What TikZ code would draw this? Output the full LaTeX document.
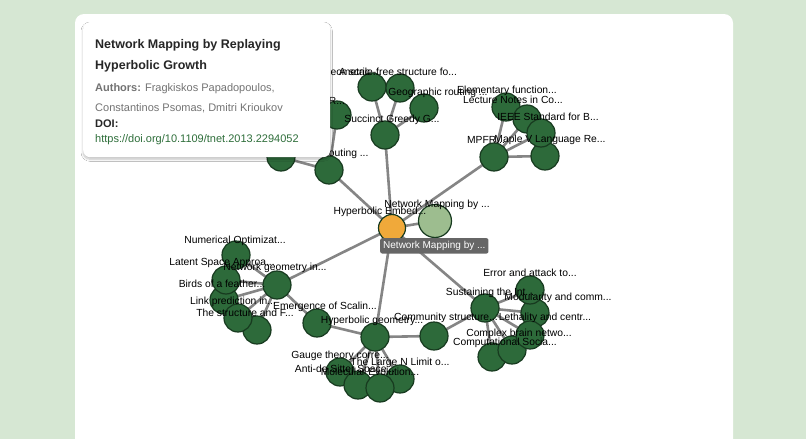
\documentclass[tikz,border=0pt]{standalone}
\usepackage{fontspec}
\setmainfont{Liberation Sans}
\usetikzlibrary{shadows.blur}
\definecolor{bgg}{HTML}{D6E7D3}
\definecolor{nfill}{HTML}{2D6A3A}
\definecolor{nline}{HTML}{173A1F}
\definecolor{edge}{HTML}{858585}
\definecolor{orng}{HTML}{F0A93A}
\definecolor{lgrn}{HTML}{9DBD8F}
\definecolor{lnk}{HTML}{2E6E3A}
\tikzset{
 pn/.style={circle,fill=nfill,draw=nline,line width=1.2pt,minimum size=28pt,inner sep=0pt},
 lab/.style={font=\fontsize{10.3}{11}\selectfont,text=black,inner sep=0pt},
 ed/.style={draw=edge,line width=2.6pt},
 cardtxt/.style={anchor=west,inner xsep=0pt,inner ysep=0pt},
}
\begin{document}
\begin{tikzpicture}[x=1pt,y=-1pt]
\fill[bgg] (0,0) rectangle (806,439);
\useasboundingbox (0,0) rectangle (806,439);
\fill[white,rounded corners=9pt] (75,14) rectangle (733,460);
% node positions (named coordinates)
\foreach \n/\p in {H/{392,228},N/{435,221},A/{385,135},A1/{372,87},A2/{400,88},A3/{424,108},B/{329,170},B1/{337,115},B2/{281,157},C/{494,157},C1/{506,107},C2/{527,119},C4/{545,156},C3/{541,133},D/{277,285},D1/{236,255},D3/{224,300},D5/{257,330},D4/{238,318},D2/{226,280},E/{317,323},F/{375,337},G/{434,336},F4/{400,379},F1/{340,372},F2/{358,385},F3/{380,388},I/{485,308},I5/{492,357},I4/{512,350},I2/{535,313},I1/{530,290},I3/{530,335}}
  \coordinate (\n) at (\p);
% edges
\path[ed] (H)--(N) (H)--(A) (H)--(B) (H)--(C) (H)--(D) (H)--(F) (H)--(I)
 (A)--(A1) (A)--(A2) (A)--(A3) (B)--(B1) (B)--(B2)
 (C)--(C1) (C)--(C2) (C)--(C3) (C)--(C4)
 (D)--(D1) (D)--(D2) (D)--(D3) (D)--(D4) (D)--(D5) (D)--(E)
 (F)--(E) (F)--(G) (G)--(I) (F)--(F1) (F)--(F2) (F)--(F3) (F)--(F4)
 (I)--(I1) (I)--(I2) (I)--(I3) (I)--(I4) (I)--(I5);
% nodes
\foreach \n in {A,A1,A2,A3,B,B1,B2,C,C1,C2,C4,C3,D,D1,D3,D5,D4,D2,E,F,G,F4,F1,F2,F3,I,I5,I4,I2,I1,I3}
  \node[pn] (n\n) at (\n) {};
\node[circle,fill=orng,draw=nline,line width=1.2pt,minimum size=27pt,inner sep=0pt] (nH) at (H) {};
\node[circle,fill=lgrn,draw=nline,line width=1.2pt,minimum size=33pt,inner sep=0pt] (nN) at (N) {};
% labels
\node[lab] (lA1) at (352,72) {Geometric ...};
\node[lab] (lA2) at (398,72) {A scale-free structure fo...};
\node[lab] (lA3) at (438,93) {Geographic routing ...};
\node[lab] (lA) at (392,120) {Succinct Greedy G...};
\node[lab] (lB1) at (330,101) {PSR...};
\node[lab] (lB) at (345,154) {Routing ...};
\node[lab] (lC1) at (507,91) {Elementary function...};
\node[lab] (lC2) at (513,100) {Lecture Notes in Co...};
\node[lab] (lC3) at (548,117) {IEEE Standard for B...};
\node[lab] (lC) at (486,140) {MPFR...};
\node[lab] (lC4) at (550,140) {Maple V Language Re...};
\node[lab] (lH) at (380,212) {Hyperbolic Embed...};
\node[lab] (lN) at (437,205) {Network Mapping by ...};
\node[lab] (lD1) at (235,241) {Numerical Optimizat...};
\node[lab] (lD2) at (222,263) {Latent Space Approa...};
\node[lab] (lD) at (275,268) {Network geometry in...};
\node[lab] (lD3) at (222,284) {Birds of a feather...};
\node[lab] (lD4) at (233,302) {Link prediction in...};
\node[lab] (lD5) at (245,313) {The structure and F...};
\node[lab] (lE) at (325,307) {Emergence of Scalin...};
\node[lab] (lF) at (372,321) {Hyperbolic geometry...};
\node[lab] (lG) at (446,318) {Community structure...};
\node[lab] (lF1) at (340,356) {Gauge theory corre...};
\node[lab] (lF4) at (400,363) {The Large N Limit o...};
\node[lab] (lF2) at (345,370) {Anti-de Sitter Space...};
\node[lab] (lF3) at (370,372) {Molecular Evolution...};
\node[lab] (lI1) at (530,273) {Error and attack to...};
\node[lab] (lI) at (490,293) {Sustaining the Int...};
\node[lab] (lI2) at (558,298) {Modularity and comm...};
\node[lab] (lI3) at (545,318) {Lethality and centr...};
\node[lab] (lI4) at (519,334) {Complex brain netwo...};
\node[lab] (lI5) at (505,343) {Computational Socia...};
% dark tooltip
\node[fill=black!60,rounded corners=2pt,text=white,font=\fontsize{10}{10}\selectfont,inner xsep=3pt,inner ysep=3pt,anchor=north west] (tt) at (380,238) {Network Mapping by ...};
% info card
\node[fill=white,rounded corners=7pt,blur shadow={shadow blur steps=8,shadow xshift=0pt,shadow yshift=-2pt,shadow opacity=25},minimum width=247pt,minimum height=135pt,anchor=north west] (card) at (83,22) {};
\node[cardtxt,font=\bfseries\fontsize{12.5}{14}\selectfont,text=black!85] (t1) at (95,45) {Network Mapping by Replaying};
\node[cardtxt,font=\bfseries\fontsize{12.5}{14}\selectfont,text=black!85] (t2) at (95,66) {Hyperbolic Growth};
\node[cardtxt,font=\fontsize{11}{13}\selectfont,text=black!55] (au1) at (95,89) {\textbf{Authors:} Fragkiskos Papadopoulos,};
\node[cardtxt,font=\fontsize{11}{13}\selectfont,text=black!55] (au2) at (95,108) {Constantinos Psomas, Dmitri Krioukov};
\node[cardtxt,font=\bfseries\fontsize{11}{13}\selectfont,text=black!85] (doi) at (95,124) {DOI:};
\node[cardtxt,font=\fontsize{11}{13}\selectfont,text=lnk] (url) at (95,140) {https://doi.org/10.1109/tnet.2013.2294052};
\end{tikzpicture}
\end{document}
